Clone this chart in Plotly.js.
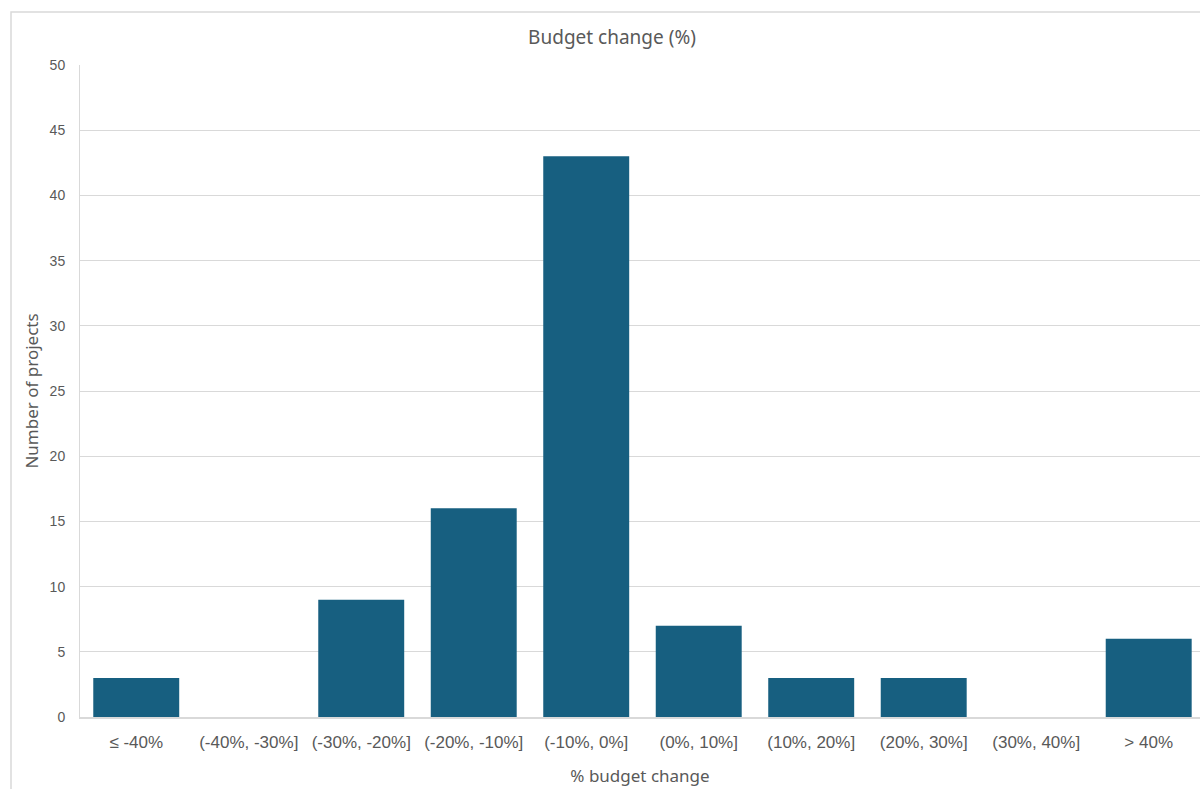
<!DOCTYPE html>
<html>
<head>
<meta charset="utf-8">
<script src="https://cdn.plot.ly/plotly-3.0.1.min.js"></script>
<style>html,body{margin:0;padding:0;background:#fff;overflow:hidden}#chart{width:1200px;height:789px}</style>
</head>
<body>
<div id="chart"></div>
<script>
const categories = ["≤ -40%", "(-40%, -30%]", "(-30%, -20%]", "(-20%, -10%]", "(-10%, 0%]", "(0%, 10%]", "(10%, 20%]", "(20%, 30%]", "(30%, 40%]", "> 40%"];
const projects = [3, 0, 9, 16, 43, 7, 3, 3, 0, 6];
const yTicks = [0, 5, 10, 15, 20, 25, 30, 35, 40, 45, 50];

const trace = {
  type: 'bar',
  x: categories,
  y: projects,
  marker: {color: '#175f80', line: {width: 0}},
  hoverinfo: 'x+y'
};

const layout = {
  width: 1200,
  height: 789,
  margin: {l: 80, r: 0, t: 65, b: 72},
  paper_bgcolor: '#ffffff',
  plot_bgcolor: '#ffffff',
  bargap: 0.236,
  showlegend: false,
  font: {family: 'Liberation Sans, Arial, sans-serif', color: '#595959'},
  title: {
    text: 'Budget change (%)',
    font: {family: 'Noto Sans, sans-serif', size: 19, color: '#595959'},
    x: 0.475, xanchor: 'center', xref: 'paper',
    y: 0.953, yanchor: 'middle', yref: 'container'
  },
  xaxis: {
    type: 'category',
    range: [-0.5, 9.456],
    showgrid: false,
    showline: true,
    linecolor: '#d9d9d9',
    linewidth: 1.5,
    ticks: '',
    tickfont: {size: 17, color: '#595959'},
    ticklabelstandoff: 9,
    title: {text: '% budget change', font: {family: 'Noto Sans, sans-serif', size: 17, color: '#595959'}, standoff: 19},
    fixedrange: true
  },
  yaxis: {
    range: [0, 50],
    tickvals: yTicks,
    showgrid: true,
    gridcolor: '#d9d9d9',
    gridwidth: 1,
    zeroline: false,
    showline: true,
    linecolor: '#d9d9d9',
    linewidth: 1,
    ticks: '',
    tickfont: {size: 14, color: '#595959'},
    ticklabelstandoff: 11,
    title: {text: 'Number of projects', font: {family: 'Noto Sans, sans-serif', size: 17, color: '#595959'}, standoff: 6},
    fixedrange: true
  },
  shapes: [{
    type: 'rect', xref: 'paper', yref: 'paper',
    x0: -0.0616, x1: 1.2, y0: -0.3, y1: 1.0813,
    line: {color: '#d9d9d9', width: 1.5},
    fillcolor: 'rgba(0,0,0,0)',
    layer: 'below'
  }]
};

Plotly.newPlot('chart', [trace], layout, {displayModeBar: false, staticPlot: true});
</script>
</body>
</html>
